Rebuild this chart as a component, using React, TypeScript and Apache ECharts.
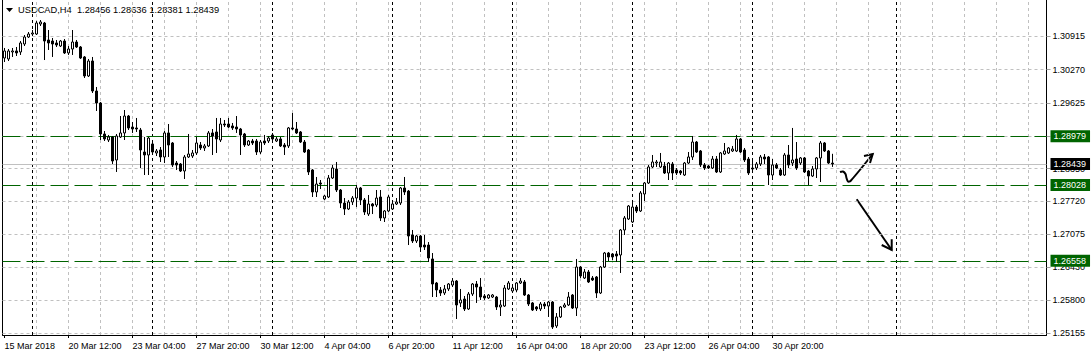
import React, { useEffect, useRef } from "react";
import * as echarts from "echarts";

const symbol = "USDCAD,H4";

const opens = [
  1.30497, 1.30478, 1.30614, 1.30634, 1.30614, 1.30769, 1.30905, 1.30963, 1.30963, 1.31158,
  1.31177, 1.30847, 1.30827, 1.30789, 1.30730, 1.30827, 1.30595, 1.30672, 1.30808, 1.30711,
  1.30517, 1.30148, 1.30439, 1.29856, 1.29623, 1.29021, 1.28904, 1.28963, 1.28516, 1.28963,
  1.29041, 1.29370, 1.29157, 1.29138, 1.29099, 1.28671, 1.28613, 1.28827, 1.28652, 1.28710,
  1.28574, 1.29041, 1.28846, 1.28457, 1.28438, 1.28302, 1.28574, 1.28593, 1.28652, 1.28807,
  1.28749, 1.28788, 1.29041, 1.29060, 1.28904, 1.29215, 1.29215, 1.29177, 1.29157, 1.29118,
  1.29021, 1.28807, 1.28885, 1.28885, 1.28671, 1.28885, 1.28885, 1.29002, 1.28885, 1.28924,
  1.28807, 1.28788, 1.29138, 1.29118, 1.29060, 1.28865, 1.28710, 1.28322, 1.27894, 1.28069,
  1.27758, 1.27797, 1.28166, 1.28341, 1.27933, 1.27680, 1.27564, 1.27700, 1.27777, 1.27972,
  1.27739, 1.27466, 1.27661, 1.27641, 1.27797, 1.27389, 1.27525, 1.27564, 1.27661, 1.27680,
  1.27972, 1.27913, 1.27059, 1.26942, 1.27039, 1.26864, 1.26864, 1.26593, 1.26126, 1.25990,
  1.25932, 1.26010, 1.26087, 1.26165, 1.25738, 1.25815, 1.25621, 1.25912, 1.26107, 1.26048,
  1.25874, 1.25835, 1.25854, 1.25854, 1.25660, 1.25679, 1.26010, 1.25971, 1.25990, 1.26126,
  1.26146, 1.25893, 1.25738, 1.25660, 1.25621, 1.25718, 1.25679, 1.25757, 1.25291, 1.25466,
  1.25660, 1.25699, 1.25893, 1.25640, 1.26437, 1.26223, 1.26340, 1.26223, 1.26243, 1.25932,
  1.26437, 1.26709, 1.26690, 1.26690, 1.26670, 1.27156, 1.27369, 1.27311, 1.27602, 1.27525,
  1.27855, 1.28069, 1.28380, 1.28457, 1.28380, 1.28399, 1.28263, 1.28438, 1.28322, 1.28302,
  1.28224, 1.28457, 1.28574, 1.28865, 1.28691, 1.28419, 1.28399, 1.28360, 1.28535, 1.28283,
  1.28632, 1.28652, 1.28691, 1.28691, 1.28924, 1.28710, 1.28535, 1.28360, 1.28360, 1.28438,
  1.28574, 1.28574, 1.28224, 1.28419, 1.28322, 1.28224, 1.28613, 1.28457, 1.28535, 1.28457,
  1.28555, 1.28302, 1.28205, 1.28341, 1.28555, 1.28846, 1.28691, 1.28456,
];

const closes = [
  1.30634, 1.30634, 1.30634, 1.30595, 1.30789, 1.30905, 1.30963, 1.30983, 1.31177, 1.31197,
  1.30827, 1.30789, 1.30769, 1.30750, 1.30827, 1.30595, 1.30672, 1.30808, 1.30711, 1.30497,
  1.30148, 1.30439, 1.29856, 1.29623, 1.29021, 1.28924, 1.28963, 1.28496, 1.28982, 1.29041,
  1.29370, 1.29138, 1.29118, 1.29118, 1.28710, 1.28613, 1.28943, 1.28671, 1.28691, 1.28574,
  1.29041, 1.28807, 1.28419, 1.28419, 1.28302, 1.28574, 1.28632, 1.28652, 1.28846, 1.28749,
  1.28788, 1.29041, 1.28982, 1.28924, 1.29215, 1.29196, 1.29157, 1.29138, 1.29118, 1.29002,
  1.28807, 1.28885, 1.28846, 1.28671, 1.28865, 1.28846, 1.28943, 1.28924, 1.28924, 1.28788,
  1.28768, 1.29138, 1.29118, 1.29041, 1.28865, 1.28671, 1.28283, 1.27894, 1.28049, 1.28049,
  1.27816, 1.28166, 1.28360, 1.27933, 1.27680, 1.27564, 1.27700, 1.27777, 1.27972, 1.27739,
  1.27505, 1.27661, 1.27622, 1.27777, 1.27389, 1.27525, 1.27797, 1.27661, 1.27700, 1.27972,
  1.27894, 1.27039, 1.26942, 1.27039, 1.26825, 1.26825, 1.26612, 1.26107, 1.25990, 1.25932,
  1.26010, 1.26107, 1.26165, 1.25699, 1.25796, 1.25621, 1.25912, 1.26107, 1.26048, 1.25854,
  1.25835, 1.25893, 1.25893, 1.25660, 1.25699, 1.26029, 1.26126, 1.26029, 1.26126, 1.26165,
  1.25893, 1.25718, 1.25602, 1.25621, 1.25718, 1.25679, 1.25757, 1.25271, 1.25466, 1.25660,
  1.25699, 1.25854, 1.25640, 1.26437, 1.26262, 1.26340, 1.26146, 1.26184, 1.25932, 1.26437,
  1.26709, 1.26632, 1.26632, 1.26651, 1.27156, 1.27389, 1.27622, 1.27602, 1.27525, 1.27875,
  1.28069, 1.28380, 1.28477, 1.28477, 1.28477, 1.28263, 1.28457, 1.28263, 1.28263, 1.28263,
  1.28457, 1.28574, 1.28865, 1.28671, 1.28419, 1.28360, 1.28360, 1.28535, 1.28283, 1.28652,
  1.28691, 1.28749, 1.28729, 1.28924, 1.28671, 1.28516, 1.28263, 1.28341, 1.28438, 1.28574,
  1.28535, 1.28224, 1.28419, 1.28360, 1.28224, 1.28613, 1.28419, 1.28516, 1.28360, 1.28555,
  1.28283, 1.28205, 1.28341, 1.28555, 1.28846, 1.28691, 1.28457, 1.28439,
];

const highs = [
  1.30692, 1.30672, 1.30692, 1.30711, 1.30827, 1.30944, 1.31002, 1.31041, 1.31216, 1.31235,
  1.31197, 1.31041, 1.30886, 1.30847, 1.30847, 1.30866, 1.30730, 1.31041, 1.30847, 1.30730,
  1.30536, 1.30478, 1.30517, 1.29934, 1.29642, 1.29079, 1.29002, 1.28982, 1.29021, 1.29370,
  1.29487, 1.29390, 1.29254, 1.29332, 1.29138, 1.28963, 1.28963, 1.28885, 1.28729, 1.28768,
  1.29079, 1.29215, 1.28865, 1.28496, 1.28457, 1.28613, 1.29021, 1.28710, 1.28963, 1.28865,
  1.28827, 1.29079, 1.29118, 1.29332, 1.29332, 1.29293, 1.29332, 1.29235, 1.29370, 1.29138,
  1.29041, 1.28904, 1.28924, 1.28924, 1.28904, 1.29002, 1.28982, 1.29041, 1.28963, 1.28963,
  1.28846, 1.29157, 1.29429, 1.29254, 1.29079, 1.28904, 1.28729, 1.28341, 1.28186, 1.28127,
  1.27836, 1.28224, 1.28419, 1.28477, 1.27952, 1.27777, 1.27739, 1.27816, 1.28030, 1.27991,
  1.27777, 1.27836, 1.27680, 1.27933, 1.27933, 1.27544, 1.27836, 1.27700, 1.27777, 1.27991,
  1.28186, 1.27933, 1.27156, 1.27059, 1.27059, 1.27059, 1.26922, 1.26709, 1.26146, 1.26048,
  1.26087, 1.26126, 1.26223, 1.26184, 1.26010, 1.25874, 1.25951, 1.26126, 1.26165, 1.26223,
  1.25912, 1.25912, 1.25912, 1.25874, 1.25796, 1.26087, 1.26165, 1.26107, 1.26146, 1.26223,
  1.26184, 1.25912, 1.25757, 1.25679, 1.25757, 1.25757, 1.25776, 1.25776, 1.25543, 1.25679,
  1.25738, 1.25951, 1.25912, 1.26593, 1.26457, 1.26398, 1.26379, 1.26262, 1.26262, 1.26457,
  1.26729, 1.26729, 1.26709, 1.26748, 1.27175, 1.27428, 1.27641, 1.27739, 1.27641, 1.27913,
  1.28088, 1.28419, 1.28613, 1.28516, 1.28652, 1.28477, 1.28477, 1.28477, 1.28360, 1.28322,
  1.28477, 1.28671, 1.28982, 1.28885, 1.28710, 1.28457, 1.28419, 1.28593, 1.28593, 1.28671,
  1.28846, 1.28768, 1.28788, 1.29002, 1.28943, 1.28749, 1.28574, 1.28516, 1.28477, 1.28613,
  1.28632, 1.28593, 1.28535, 1.28457, 1.28360, 1.28652, 1.28807, 1.29138, 1.28865, 1.28574,
  1.28574, 1.28322, 1.28399, 1.28574, 1.28885, 1.28865, 1.28710, 1.28636,
];

const lows = [
  1.30419, 1.30439, 1.30517, 1.30536, 1.30556, 1.30730, 1.30886, 1.30924, 1.30944, 1.31119,
  1.30458, 1.30653, 1.30517, 1.30711, 1.30711, 1.30575, 1.30556, 1.30556, 1.30692, 1.30478,
  1.30109, 1.30128, 1.29817, 1.29468, 1.28904, 1.28885, 1.28865, 1.28438, 1.28283, 1.28943,
  1.28904, 1.29099, 1.29041, 1.29060, 1.28360, 1.28224, 1.28224, 1.28652, 1.28593, 1.28477,
  1.28457, 1.28574, 1.28380, 1.28322, 1.28283, 1.28147, 1.28555, 1.28555, 1.28613, 1.28710,
  1.28691, 1.28768, 1.28613, 1.28652, 1.28865, 1.29157, 1.29138, 1.29099, 1.29041, 1.28613,
  1.28768, 1.28788, 1.28807, 1.28613, 1.28632, 1.28807, 1.28846, 1.28885, 1.28865, 1.28768,
  1.28613, 1.28749, 1.29099, 1.29021, 1.28846, 1.28652, 1.28224, 1.27797, 1.27797, 1.27952,
  1.27739, 1.27777, 1.28147, 1.27894, 1.27583, 1.27447, 1.27544, 1.27641, 1.27602, 1.27641,
  1.27447, 1.27428, 1.27466, 1.27602, 1.27331, 1.27311, 1.27505, 1.27544, 1.27641, 1.27641,
  1.27836, 1.26864, 1.26903, 1.26903, 1.26729, 1.26767, 1.26534, 1.25854, 1.25854, 1.25874,
  1.25893, 1.25971, 1.26048, 1.25427, 1.25660, 1.25582, 1.25602, 1.25874, 1.25738, 1.25796,
  1.25796, 1.25815, 1.25835, 1.25602, 1.25485, 1.25660, 1.25990, 1.25951, 1.25951, 1.26107,
  1.25874, 1.25679, 1.25582, 1.25582, 1.25582, 1.25621, 1.25466, 1.25233, 1.25252, 1.25446,
  1.25640, 1.25679, 1.25621, 1.25485, 1.26223, 1.26204, 1.26126, 1.26165, 1.25835, 1.25912,
  1.26418, 1.26554, 1.26573, 1.26534, 1.26321, 1.27059, 1.27350, 1.27292, 1.27486, 1.27505,
  1.27719, 1.28049, 1.28360, 1.28380, 1.28360, 1.28244, 1.28127, 1.28127, 1.28224, 1.28224,
  1.28205, 1.28438, 1.28516, 1.28652, 1.28380, 1.28322, 1.28341, 1.28341, 1.28263, 1.28263,
  1.28613, 1.28632, 1.28671, 1.28671, 1.28652, 1.28477, 1.28224, 1.28263, 1.28322, 1.28399,
  1.28438, 1.28030, 1.28127, 1.28341, 1.28205, 1.28205, 1.28360, 1.28399, 1.28322, 1.28419,
  1.28263, 1.28030, 1.28186, 1.28166, 1.28088, 1.28671, 1.28438, 1.28381,
];

const xTickLabels = [
  "15 Mar 2018", "20 Mar 12:00", "23 Mar 04:00", "27 Mar 20:00", "30 Mar 12:00",
  "4 Apr 04:00", "6 Apr 20:00", "11 Apr 12:00", "16 Apr 04:00", "18 Apr 20:00",
  "23 Apr 12:00", "26 Apr 04:00", "30 Apr 20:00",
];
const xLabelStep = 16; // bars between time labels
const gridStep = 8; // bars between vertical grid lines
const weekStarts = [7, 37, 67, 97, 127, 157, 187, 223];
const totalSlots = 261;

const yTicks = [1.30915, 1.3027, 1.29625, 1.2898, 1.2835, 1.2772, 1.27075, 1.2643, 1.258, 1.25155];
const levels = [1.28979, 1.28028, 1.26558];
const bidPrice = 1.28439;
const yMin = 1.25116;
const yMax = 1.31624;

const FONT = "'Liberation Sans', Arial, sans-serif";
const GREEN = "#006400";

export default function App() {
  const ref = useRef<HTMLDivElement>(null);

  useEffect(() => {
    const el = ref.current;
    if (!el) return;
    const chart = echarts.init(el, undefined, { renderer: "svg" });
    const fmt = (v: number) => v.toFixed(5);
    const last = opens.length - 1;
    const candles = opens.map((o, i) => [o, closes[i], lows[i], highs[i]]);
    const slots = Array.from({ length: totalSlots }, (_, i) => String(i));
    const gridCols: number[] = [];
    for (let i = gridStep; i < totalSlots; i += gridStep) gridCols.push(i);

    const title = `${symbol}  ${fmt(opens[last])} ${fmt(highs[last])} ${fmt(lows[last])} ${fmt(closes[last])}`;

    const priceLabel = (bg: string) => ({
      show: true,
      position: "end",
      color: "#fff",
      backgroundColor: bg,
      padding: [2, 4, 1, 3],
      distance: 4,
      fontSize: 9,
      fontFamily: FONT,
    });

    const option: any = {
      animation: false,
      backgroundColor: "#ffffff",
      grid: { left: 2.5, right: 44.5, top: 0, bottom: 22, show: false },
      xAxis: {
        type: "category",
        data: slots,
        boundaryGap: true,
        axisLine: { show: true, lineStyle: { color: "#000", width: 1 } },
        axisTick: {
          show: true,
          alignWithLabel: true,
          length: 3,
          interval: (i: number) => i % xLabelStep === 0 && i / xLabelStep < xTickLabels.length,
          lineStyle: { color: "#000" },
        },
        axisLabel: {
          interval: (i: number) => i % xLabelStep === 0 && i / xLabelStep < xTickLabels.length,
          formatter: (_v: string, i: number) => xTickLabels[i / xLabelStep] ?? "",
          align: "left",
          margin: 6,
          fontSize: 9,
          color: "#000",
          fontFamily: FONT,
        },
        splitLine: { show: false },
      },
      yAxis: {
        type: "value",
        position: "right",
        min: yMin,
        max: yMax,
        axisLine: { show: true, lineStyle: { color: "#000" } },
        axisTick: { show: true, customValues: yTicks, length: 4, lineStyle: { color: "#a0a0a0" } },
        axisLabel: {
          customValues: yTicks,
          formatter: (v: number) => fmt(v),
          margin: 6,
          fontSize: 9,
          color: "#000",
          fontFamily: FONT,
        },
        splitLine: { show: false },
      },
      series: [
        {
          type: "line",
          data: [],
          silent: true,
          z: 1,
          markLine: {
            silent: true,
            precision: 5,
            symbol: ["none", "none"],
            animation: false,
            label: { show: false },
            lineStyle: { color: "#c0c0c0", type: [3, 3], width: 1 },
            data: [
              ...gridCols.map((i) => ({ xAxis: i })),
              ...yTicks.map((v) => ({ yAxis: v })),
            ],
          },
        },
        {
          type: "line",
          data: [],
          silent: true,
          z: 2,
          markLine: {
            silent: true,
            precision: 5,
            symbol: ["none", "none"],
            animation: false,
            label: { show: false },
            lineStyle: { color: "#000", type: [3, 3], width: 1 },
            data: weekStarts.map((i) => ({ xAxis: i })),
          },
        },
        {
          type: "line",
          data: [],
          silent: true,
          z: 3,
          markLine: {
            silent: true,
            precision: 5,
            symbol: ["none", "none"],
            animation: false,
            lineStyle: { color: "#c0c0c0", type: "solid", width: 1 },
            label: { ...priceLabel("#000"), formatter: () => fmt(bidPrice) },
            data: [{ yAxis: bidPrice }],
          },
        },
        {
          type: "line",
          data: [],
          silent: true,
          z: 4,
          markLine: {
            silent: true,
            precision: 5,
            symbol: ["none", "none"],
            animation: false,
            lineStyle: { color: GREEN, type: [18, 6], width: 1 },
            label: { ...priceLabel(GREEN), formatter: (p: any) => fmt(Number(p.value)) },
            data: levels.map((v) => ({ yAxis: v })),
          },
        },
        {
          type: "candlestick",
          data: candles,
          z: 5,
          barWidth: 2,
          itemStyle: {
            color: "#ffffff",
            color0: "#000000",
            borderColor: "#000000",
            borderColor0: "#000000",
            borderColorDoji: "#000000",
            borderWidth: 1,
          },
        },
      ],
      graphic: [
        {
          type: "line",
          shape: { x1: 2.5, y1: 0, x2: 2.5, y2: 335 },
          style: { stroke: "#000", lineWidth: 1 },
          silent: true,
        },
        {
          type: "polygon",
          shape: { points: [[6, 8], [13, 8], [9.5, 12]] },
          style: { fill: "#000" },
          silent: true,
        },
        {
          type: "text",
          x: 18,
          y: 5,
          style: { text: title, fontSize: 9.3, fontFamily: FONT, fill: "#000" },
          silent: true,
        },
        {
          type: "polyline",
          shape: {
            points: [[840, 172], [843, 171.5], [845.5, 174], [846.5, 178], [848, 181.5], [850.5, 181], [872.7, 154]],
            smooth: 0.3,
          },
          style: { stroke: "#000", lineWidth: 2, fill: null },
          silent: true,
        },
        {
          type: "polyline",
          shape: { points: [[864, 156], [872.7, 154], [870, 163]] },
          style: { stroke: "#000", lineWidth: 2, fill: null },
          silent: true,
        },
        {
          type: "line",
          shape: { x1: 856.7, y1: 199.3, x2: 891.7, y2: 250 },
          style: { stroke: "#000", lineWidth: 2 },
          silent: true,
        },
        {
          type: "polyline",
          shape: { points: [[881.7, 245], [891.7, 250], [891.7, 239.3]] },
          style: { stroke: "#000", lineWidth: 2, fill: null },
          silent: true,
        },
      ],
    };

    chart.setOption(option);
    return () => chart.dispose();
  }, []);

  return (
    <div
      ref={ref}
      style={{ position: "fixed", left: 0, top: 0, width: 1091, height: 357, background: "#fff" }}
    />
  );
}
